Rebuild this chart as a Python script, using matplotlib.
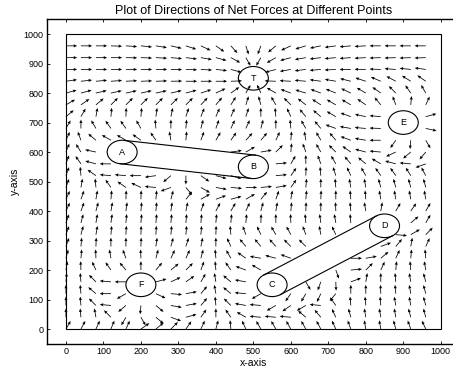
import numpy as np
import matplotlib
matplotlib.use("Agg")
import matplotlib.pyplot as plt
from matplotlib.patches import Circle, Rectangle

# ---------------- data ----------------
title = "Plot of Directions of Net Forces at Different Points"
x_label = "x-axis"
y_label = "y-axis"

# grid of arrow tails
x_points = [0, 40, 80, 120, 160, 200, 240, 280, 320, 360, 400, 440, 480,
            520, 560, 600, 640, 680, 720, 760, 800, 840, 880, 920, 960]
y_rows = [960, 920, 880, 840, 800, 760, 720, 680, 640, 600, 560, 520, 480,
          440, 400, 360, 320, 280, 240, 200, 160, 120, 80, 40, 0]

# on-screen direction of every arrow in degrees (0 = right, 90 = up), '.' = no arrow
angle_rows = [
    "0 0 0 -2 -4 -6 -9 -13 -18 -25 -35 -48 -72 -110 -140 -155 -163 -168 -172 -175 -177 180 180 180 180",
    "0 0 0 0 -1 -2 -3 -5 -7 -10 -15 -28 -60 -120 -150 -165 -170 -173 -175 -176 -177 -178 -178 -178 -178",
    "0 0 0 0 0 0 0 -1 -2 -3 -6 -15 . . -165 -170 -173 -175 -177 180 179 178 176 174 172",
    "8 6 5 4 3 2 2 1 0 0 0 2 . . 178 177 175 172 170 166 162 157 152 148 145",
    "15 15 13 12 12 12 12 13 15 18 25 35 60 115 150 160 163 160 158 155 150 145 135 125 120",
    "30 35 40 45 45 45 45 45 45 47 50 58 72 105 120 135 142 147 150 150 145 130 110 85 65",
    "40 60 80 85 88 85 82 78 72 68 66 66 72 90 95 115 130 140 150 160 168 175 . . 15",
    "60 90 120 125 125 120 95 90 85 75 70 65 65 75 90 95 120 130 160 170 175 178 . . -12",
    "65 110 140 150 150 145 125 100 85 70 60 55 48 50 65 85 100 120 130 160 170 180 -125 -95 -60",
    "68 122 168 . . . . . . . . 8 30 10 45 85 110 120 135 145 165 175 -155 -140 -130",
    "70 125 165 180 . . . . . . . . . . 5 60 90 110 120 130 140 150 165 175 -160",
    "70 95 145 175 175 180 -172 -140 -90 -35 -15 -15 . . 5 55 88 95 108 115 120 125 125 122 118",
    "70 80 95 125 145 155 175 -160 -50 -30 -10 -5 0 5 10 55 85 90 95 100 100 105 105 105 105",
    "65 70 80 85 88 88 85 75 50 30 20 15 30 50 70 80 85 88 90 95 95 100 100 100 100",
    "65 70 75 80 82 85 85 82 78 70 62 60 65 75 80 85 88 90 92 95 100 80 60 55 60",
    "70 75 80 82 85 85 85 85 85 85 85 85 85 88 90 92 95 98 100 95 . . . 40 60",
    "70 75 80 85 87 88 87 85 85 85 88 95 110 115 120 118 110 100 115 . . . -5 30 45",
    "70 85 88 90 90 88 82 75 72 78 90 115 130 130 132 135 135 . . . . 20 50 80 65",
    "75 85 92 100 110 92 75 65 65 75 95 120 145 170 165 160 . . . 0 10 40 65 85 95",
    "80 92 115 125 130 90 50 40 45 70 95 125 160 150 . . . . -70 5 45 65 85 95 100",
    "85 95 135 175 180 . 15 25 35 60 100 140 170 . . . -60 -110 -88 20 80 90 95 100 105",
    "90 95 140 180 -150 . -25 -5 10 50 100 140 175 -150 . -125 -120 -115 -130 90 90 92 95 100 105",
    "90 95 135 175 -140 -95 -40 -10 10 50 95 135 170 175 -150 -145 -150 175 125 95 95 95 100 100 105",
    "90 95 100 135 -120 -60 -40 -20 15 55 90 125 150 175 175 175 140 130 115 105 100 100 100 105 105",
    "60 62 65 68 65 35 40 45 55 65 75 95 115 120 120 120 120 118 115 110 100 100 105 110 115",
]

# labelled circles (obstacles / target)
obstacle_names = ["A", "B", "C", "D", "E", "F", "T"]
obstacle_x = [150, 500, 550, 850, 900, 200, 500]
obstacle_y = [600, 550, 150, 350, 700, 150, 850]
obstacle_radius = 40
walls = [("A", "B"), ("C", "D")]

x_ticks = [0, 100, 200, 300, 400, 500, 600, 700, 800, 900, 1000]
y_ticks = [0, 100, 200, 300, 400, 500, 600, 700, 800, 900, 1000]
field_box = (0, 0, 1000, 1000)

# ---------------- figure ----------------
plt.rcParams['font.family'] = ['Liberation Sans', 'DejaVu Sans']
W, H, DPI = 453, 373, 100
fig = plt.figure(figsize=(W / DPI, H / DPI), dpi=DPI)
ax_left, ax_bottom, ax_w, ax_h = 47.2 / W, (H - 343.8) / H, 412.3 / W, 324.5 / H
ax = fig.add_axes([ax_left, ax_bottom, ax_w, ax_h])
xlim = (-50, 1050)
ylim = (-50, 1050)
ax.set_xlim(*xlim)
ax.set_ylim(*ylim)

# pixel per data unit, to turn on-screen directions into data vectors
sx = ax_w * W / (xlim[1] - xlim[0])
sy = ax_h * H / (ylim[1] - ylim[0])
arrow_len = 30.0

X, Y, U, V = [], [], [], []
for yv, row in zip(y_rows, angle_rows):
    toks = row.split()
    for xv, t in zip(x_points, toks):
        if t == '.':
            continue
        a = np.deg2rad(float(t))
        du, dv = np.cos(a) / sx, np.sin(a) / sy
        n = np.hypot(du, dv)
        X.append(xv); Y.append(yv)
        U.append(arrow_len * du / n); V.append(arrow_len * dv / n)

ax.quiver(X, Y, U, V, angles='xy', scale_units='xy', scale=1,
          color='black', width=0.0019, headwidth=4.0, headlength=4.6,
          headaxislength=4.2, pivot='tail', zorder=3)

# outer field rectangle
ax.add_patch(Rectangle((field_box[0], field_box[1]), field_box[2] - field_box[0],
                       field_box[3] - field_box[1], fill=False, ec='black', lw=0.8))

# circles and labels
centers = {}
for name, cx, cy in zip(obstacle_names, obstacle_x, obstacle_y):
    centers[name] = (cx, cy)
    ax.add_patch(Circle((cx, cy), obstacle_radius, fill=False, ec='black', lw=0.8, zorder=4))
    ax.text(cx, cy, name, ha='center', va='center', fontsize=6.5, zorder=5)

# walls joining two circles (tangent lines)
for a_name, b_name in walls:
    (x1, y1), (x2, y2) = centers[a_name], centers[b_name]
    d = np.array([x2 - x1, y2 - y1], float)
    d /= np.hypot(*d)
    nrm = np.array([-d[1], d[0]]) * obstacle_radius
    for s in (1, -1):
        ax.plot([x1 + s * nrm[0], x2 + s * nrm[0]], [y1 + s * nrm[1], y2 + s * nrm[1]],
                color='black', lw=0.8, zorder=4)

ax.set_xticks(x_ticks)
ax.set_yticks(y_ticks)
ax.tick_params(direction='in', top=True, right=True, length=2.5, width=0.6,
               labelsize=6.5, pad=2.5)
for sp in ax.spines.values():
    sp.set_linewidth(1.0)

ax.set_title(title, fontsize=9, pad=3.5)
ax.set_xlabel(x_label, fontsize=7.5, labelpad=1)
ax.set_ylabel(y_label, fontsize=7.5, labelpad=3)

fig.savefig("out.png", dpi=DPI)
